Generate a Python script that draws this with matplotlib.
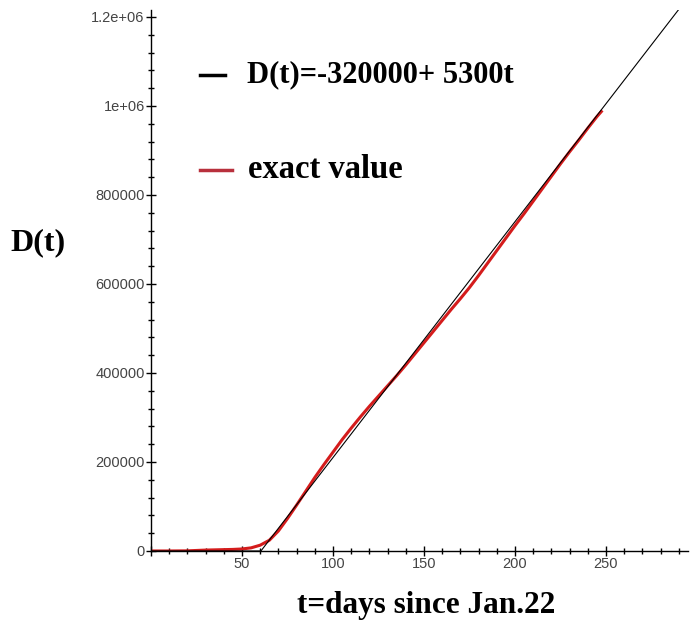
import matplotlib
matplotlib.use("Agg")
import matplotlib.pyplot as plt
from matplotlib.ticker import MultipleLocator, FuncFormatter
from matplotlib.lines import Line2D

# Black fitted line (D(t) = -320000 + 5300 t, floored at 0)
t_fit = [0, 60.4, 292]
d_fit = [0, 0, 1227600]

# Red "exact value" curve
t_exact = [0, 10, 20, 30, 40, 45, 50, 55, 60, 65, 70, 75, 80, 85, 90, 95,
           100, 105, 110, 115, 120, 125, 130, 135, 140, 145, 150, 155, 160,
           165, 170, 175, 180, 185, 190, 195, 200, 205, 210, 215, 220, 225,
           230, 235, 240, 245, 248]
d_exact = [0, 0, 300, 2000, 3000, 3500, 4500, 7000, 13000, 24000, 45000,
           73000, 103000, 134000, 165000, 194000, 222000, 250000, 276000,
           301000, 325000, 348000, 371000, 394000, 418000, 443000, 468000,
           493000, 518000, 543000, 567000, 592000, 619000, 647000, 675000,
           703000, 731000, 758000, 786000, 814000, 842000, 870000, 897000,
           923000, 950000, 976000, 990000]

y_tick_labels = {0: "0", 200000: "200000", 400000: "400000", 600000: "600000",
                 800000: "800000", 1000000: "1e+06", 1200000: "1.2e+06"}

fig = plt.figure(figsize=(6.91, 6.38), dpi=100)
ax = fig.add_axes([0.2185, 0.1364, 0.777, 0.8475])

ax.plot(t_exact, d_exact, color="#d41c1c", lw=2.2, zorder=2, solid_capstyle="butt")
ax.plot(t_fit, d_fit, color="black", lw=0.8, zorder=3)

ax.set_xlim(0, 295)
ax.set_ylim(0, 1215000)

for s in ["top", "right"]:
    ax.spines[s].set_visible(False)
for s in ["left", "bottom"]:
    ax.spines[s].set_linewidth(1.0)
    ax.spines[s].set_color("black")

ax.xaxis.set_major_locator(MultipleLocator(50))
ax.xaxis.set_minor_locator(MultipleLocator(10))
ax.yaxis.set_major_locator(MultipleLocator(200000))
ax.yaxis.set_minor_locator(MultipleLocator(40000))
ax.xaxis.set_major_formatter(FuncFormatter(lambda v, p: "" if v == 0 else f"{int(v)}"))
ax.yaxis.set_major_formatter(FuncFormatter(lambda v, p: y_tick_labels.get(int(round(v)), "")))

ax.tick_params(which="major", direction="inout", length=7, width=1.0, color="black",
               labelsize=10.5, labelcolor="#444444", pad=1)
ax.tick_params(which="minor", direction="inout", length=5, width=1.0, color="black")
for lab in ax.get_xticklabels() + ax.get_yticklabels():
    lab.set_fontfamily("Liberation Sans")

def serif(size):
    return {"family": "Liberation Serif", "weight": "bold", "size": size}

fig.text(38 / 691, 1 - 243 / 638, "D(t)", ha="center", va="center", **serif(23))
fig.text(426 / 691, 1 - 605 / 638, "t=days since Jan.22", ha="center", va="center", **serif(22.5))

# Legend entries drawn by hand
fig.add_artist(Line2D([200 / 691, 225 / 691], [1 - 75 / 638, 1 - 75 / 638],
                      color="black", lw=2.5, transform=fig.transFigure))
fig.text(247 / 691, 1 - 75 / 638, "D(t)=-320000+ 5300t", ha="left", va="center", **serif(22))
fig.add_artist(Line2D([200 / 691, 232 / 691], [1 - 170 / 638, 1 - 170 / 638],
                      color="#b8303c", lw=2.5, transform=fig.transFigure))
fig.text(248 / 691, 1 - 170 / 638, "exact value", ha="left", va="center", **serif(23.5))

fig.savefig("out.png", dpi=100)
